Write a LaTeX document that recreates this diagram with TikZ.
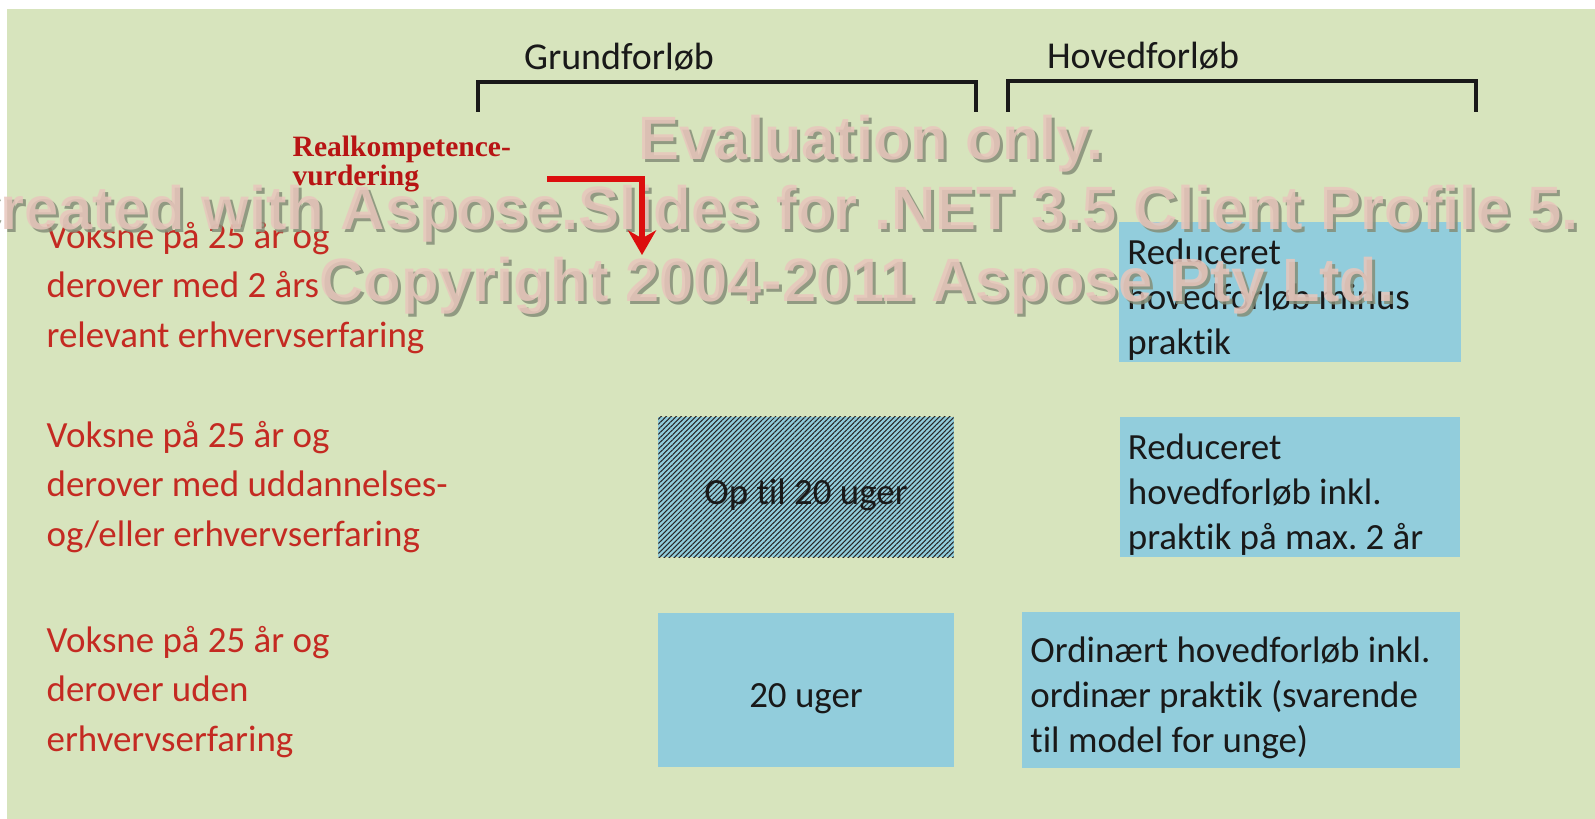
\documentclass[tikz,border=0pt]{standalone}
\usepackage{fontspec}
\setmainfont{Carlito}[Ligatures=NoCommon]
\newfontfamily\wmfont{Liberation Sans}
\newfontfamily\rkfont{Liberation Serif}
\usetikzlibrary{arrows.meta,patterns.meta}
\definecolor{bggreen}{HTML}{D7E4BD}
\definecolor{boxblue}{HTML}{92CDDC}
\definecolor{grpred}{HTML}{C42A22}
\definecolor{rkred}{HTML}{B81414}
\definecolor{arrred}{HTML}{DC0E0E}
\definecolor{wmpink}{HTML}{E8C6BC}
\definecolor{wmshade}{HTML}{858E78}
\frenchspacing
\begin{document}
\begin{tikzpicture}[x=0.01cm, y=-0.01cm,
    phase/.style={font=\fontsize{10.8}{13}\selectfont, text=black!90, anchor=base, inner sep=0pt},
    bracket/.style={line width=0.9pt, black!90, line join=miter},
    group/.style={font=\fontsize{10.5}{14}\selectfont, text=grpred, align=flush left, anchor=west, inner sep=0pt},
    period/.style={rectangle, fill=boxblue, font=\fontsize{10.5}{12.8}\selectfont, text=black!90,
                   inner xsep=0.08cm, inner ysep=0pt, align=flush left,
                   execute at begin node={\rule{0pt}{11.6pt}}},
    wm/.style={font=\wmfont\bfseries\fontsize{17.4}{20}\selectfont, inner sep=0pt, text opacity=0.85}]
    \useasboundingbox (0,0) rectangle (1595,819);
    % Slide background
    \fill[bggreen] (7,9) rectangle (1595,819);
    % Phase brackets
    \draw[bracket] (478,112) -- (478,82) -- (976,82) -- (976,112);
    \draw[bracket] (1008,112) -- (1008,81) -- (1476,81) -- (1476,112);
    \node[phase] (lbl-grund) at (619,70) {Grundforløb};
    \node[phase] (lbl-hoved) at (1143,69) {Hovedforløb};
    % Target groups
    \node[group] (grp-exp) at (46,288) {Voksne på 25 år og\\derover med 2 års\\relevant erhvervserfaring};
    \node[group] (grp-edu) at (46,487) {Voksne på 25 år og\\derover med uddannelses-\\og/eller erhvervserfaring};
    \node[group] (grp-none) at (46,692) {Voksne på 25 år og\\derover uden\\erhvervserfaring};
    % Grundforløb periods
    \node[period, align=center, minimum width=2.95cm, minimum height=1.4cm,
          preaction={fill=boxblue}, pattern={Lines[angle=45,distance=1pt,line width=0.3pt]},
          pattern color=black!85] (gf-part) at (806,487) {Op til 20 uger};
    \node[period, align=center, minimum width=2.95cm, minimum height=1.54cm] (gf-full) at (806,690) {20 uger};
    % Hovedforløb periods
    \node[period, text width=3.25cm, minimum height=1.4cm] (red-min) at (1290,292) {Reduceret\\hovedforløb minus\\praktik};
    \node[period, text width=3.24cm, minimum height=1.4cm] (red-max) at (1290,487) {Reduceret\\hovedforløb inkl.\\praktik på max. 2 år};
    \node[period, text width=4.21cm, minimum height=1.56cm] (ord) at (1241,690) {Ordinært hovedforløb inkl.\\ordinær praktik (svarende\\til model for unge)};
    % Realkompetencevurdering
    \node[font=\rkfont\bfseries\fontsize{8.4}{8}\selectfont, text=rkred, align=flush left, anchor=west, inner sep=0pt] (rk) at (292,164) {Realkompetence-\\vurdering};
    % Watermark
    \foreach \off/\col in {3/wmshade, 0/wmpink} {
        \node[wm, text=\col, anchor=base] (wm-eval-\col) at (871+\off,160+\off) {Evaluation only.};
        \node[wm, text=\col, anchor=base west] (wm-made-\col) at (-44+\off,230+\off) {Created with Aspose.Slides for .NET 3.5 Client Profile 5.};
        \node[wm, text=\col, anchor=base] (wm-copy-\col) at (857+\off,302+\off) {Copyright 2004-2011 Aspose Pty Ltd.};
    }
    % Arrow into the periods
    \coordinate (rk-start) at (547,179);
    \coordinate (rk-end) at (642,255);
    \draw[arrred, line width=1.5pt, -{Stealth[length=7pt,width=8pt]}] (rk-start) -| (rk-end);
\end{tikzpicture}
\end{document}
